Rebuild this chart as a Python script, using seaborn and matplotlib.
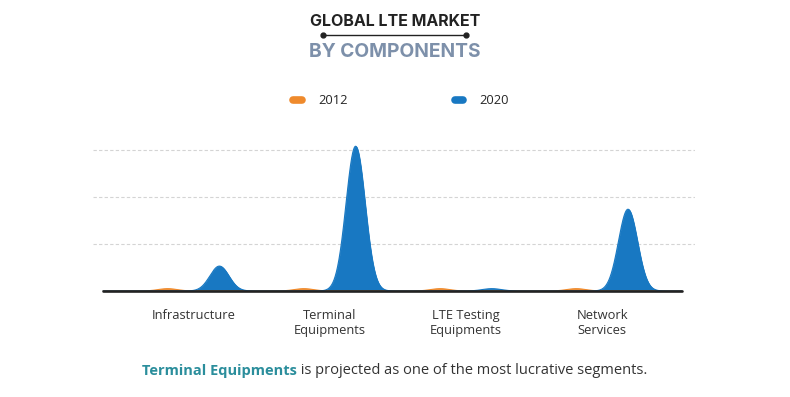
import numpy as np
import pandas as pd
import matplotlib
matplotlib.use('Agg')
import matplotlib.pyplot as plt
from matplotlib.lines import Line2D
import seaborn as sns

# data (grid step = 1 unit)
categories = ['Infrastructure', 'Terminal\nEquipments', 'LTE Testing\nEquipments', 'Network\nServices']
years = ['2012', '2020']
values_2012 = [0.05, 0.05, 0.05, 0.05]
values_2020 = [0.53, 3.08, 0.05, 1.74]

colors = {'2012': '#ef8a2c', '2020': '#1878c2'}
offset = 0.19
spread = 0.07

sns.set_theme(style='white')
plt.rcParams['font.family'] = ['Open Sans', 'DejaVu Sans']

fig = plt.figure(figsize=(7.9, 3.97), dpi=100)
ax = fig.add_axes([93 / 790, 0.267, 602 / 790, 0.3788])

xmin, xmax = -0.738, 3.682
# curves only run along the dark baseline
lo = xmin + 10 / 602 * (xmax - xmin)
hi = xmin + 589 / 602 * (xmax - xmin)
xs = np.linspace(lo, hi, 3000)
rows = []
for year, vals, sign in [('2012', values_2012, -1), ('2020', values_2020, 1)]:
    ys = np.zeros_like(xs)
    for i, v in enumerate(vals):
        ys += v * np.exp(-(xs - (i + sign * offset)) ** 2 / (2 * spread ** 2))
    ax.fill_between(xs, 0, ys, facecolor=colors[year], edgecolor=colors[year], lw=0.6, zorder=2)
    rows.append(pd.DataFrame({'x': xs, 'y': ys, 'year': year}))
df = pd.concat(rows)
sns.lineplot(data=df, x='x', y='y', hue='year', palette=colors, lw=0.8,
             legend=False, ax=ax, zorder=3)

ax.set_xlim(xmin, xmax)
ax.set_ylim(0, 3.2)
ax.set_yticks([1, 2, 3])
ax.set_yticklabels([])
ax.yaxis.grid(True, color='#d4d4d4', ls=(0, (3, 2)), lw=0.8)
ax.set_xticks(range(len(categories)))
ax.set_xticklabels(categories, fontsize=9.3, color='#333333', va='top')
ax.tick_params(axis='x', length=0, pad=13)
ax.tick_params(axis='y', length=0)
ax.set_xlabel('')
ax.set_ylabel('')
for s in ax.spines.values():
    s.set_visible(False)
ax.axhline(0, xmin=10 / 602, xmax=589 / 602, color='#222222', lw=1.9, zorder=5, clip_on=False)

# title
fig.text(395 / 790, 1 - 21 / 397, 'GLOBAL LTE MARKET', ha='center', va='center',
         fontsize=11.5, fontweight='bold', color='#222222', family=['Inter', 'DejaVu Sans'])
fig.add_artist(Line2D([323 / 790, 466 / 790], [1 - 35 / 397] * 2, color='#222222', lw=1,
                      marker='o', markersize=3.5, markevery=[0, 1], transform=fig.transFigure))
fig.text(395 / 790, 1 - 52 / 397, 'BY COMPONENTS', ha='center', va='center',
         fontsize=13.8, fontweight='bold', color='#7d90aa', family=['Inter', 'DejaVu Sans'])

# legend
handles = [Line2D([0], [0], color=colors[y], lw=5.5, solid_capstyle='round') for y in years]
fig.legend(handles, years, ncol=2, loc='center', bbox_to_anchor=(401 / 790, 1 - 101 / 397),
           frameon=False, handlelength=0.65, handletextpad=1.25, columnspacing=8.3,
           prop={'size': 9.3})

# footer
renderer = fig.canvas.get_renderer()
t1 = fig.text(0, 1 - 371 / 397, 'Terminal Equipments', fontsize=10.5, fontweight='bold',
              color='#2b8e9c', va='center')
t2 = fig.text(0, 1 - 371 / 397, ' is projected as one of the most lucrative segments.',
              fontsize=10.5, color='#333333', va='center')
w1 = t1.get_window_extent(renderer).width
w2 = t2.get_window_extent(renderer).width
x0 = 395 - (w1 + w2) / 2
t1.set_x(x0 / 790)
t2.set_x((x0 + w1) / 790)

fig.savefig('out.png', dpi=100)
